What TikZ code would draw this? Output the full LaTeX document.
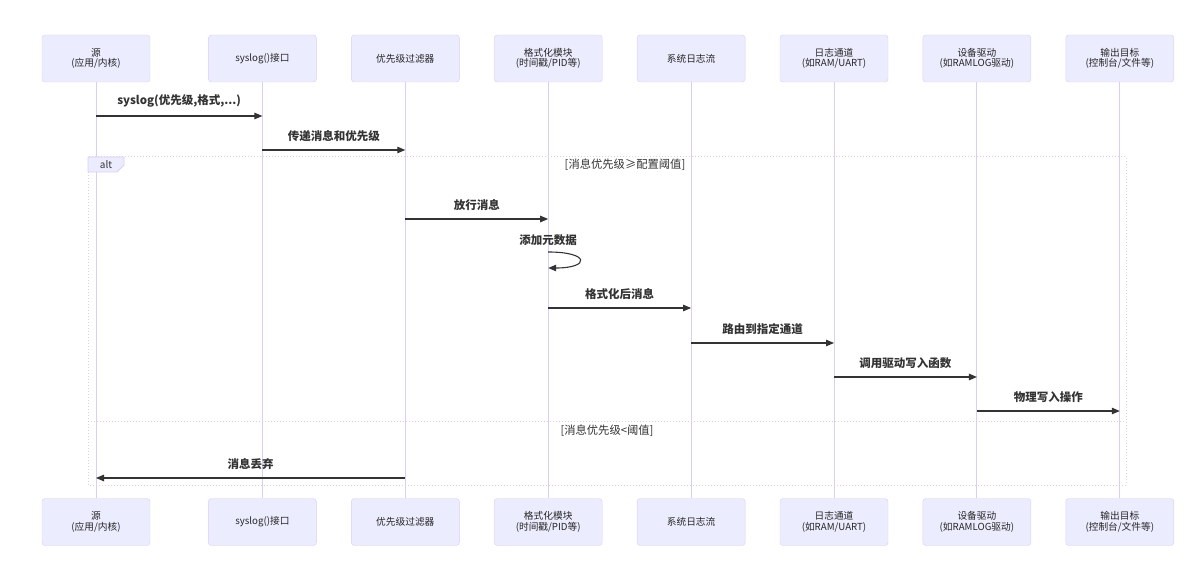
\documentclass[tikz,border=0pt]{standalone}
\usepackage{fontspec}
\setmainfont{Noto Sans CJK SC}
\usetikzlibrary{arrows.meta, positioning}
\definecolor{actorFill}{HTML}{ECECFF}
\definecolor{actorLine}{RGB}{218,206,243}
\definecolor{msgC}{HTML}{333333}

\begin{document}
\begin{tikzpicture}[
    x=1pt, y=-1pt,
    node distance=34.5pt,
    actor/.style={rectangle, rounded corners=3pt, draw=actorLine, fill=actorFill,
                  minimum width=108pt, minimum height=47pt, align=center,
                  inner sep=2pt, text=black!85, font=\fontsize{9.7}{10.5}\selectfont},
    lifeline/.style={draw=actorLine, line width=1pt},
    msg/.style={-{Triangle[length=8pt, width=6.5pt]}, msgC, line width=1.1pt},
    lbl/.style={midway, above=4.5pt, text=msgC, font=\fontsize{11.5}{13}\selectfont\bfseries},
    frame/.style={draw=actorLine, line width=1pt, dotted},
    cond/.style={text=msgC, font=\fontsize{11.3}{13}\selectfont}
  ]
    \useasboundingbox (0,0) rectangle (1197,572);

    % Participants (top)
    \node[actor] (src) at (96,58.5) {源\\(应用/内核)};
    \node[actor, right=58pt of src] (api) {syslog()接口};
    \node[actor, right=of api] (filter) {优先级过滤器};
    \node[actor, right=of filter] (fmt) {格式化模块\\(时间戳/PID等)};
    \node[actor, right=of fmt] (stream) {系统日志流};
    \node[actor, right=of stream] (chan) {日志通道\\(如RAM/UART)};
    \node[actor, right=of chan] (drv) {设备驱动\\(如RAMLOG驱动)};
    \node[actor, right=of drv] (out) {输出目标\\(控制台/文件等)};

    % Participants (bottom)
    \coordinate (botrow) at (0,522);
    \node[actor] (srcB) at (src |- botrow) {源\\(应用/内核)};
    \node[actor] (apiB) at (api |- botrow) {syslog()接口};
    \node[actor] (filterB) at (filter |- botrow) {优先级过滤器};
    \node[actor] (fmtB) at (fmt |- botrow) {格式化模块\\(时间戳/PID等)};
    \node[actor] (streamB) at (stream |- botrow) {系统日志流};
    \node[actor] (chanB) at (chan |- botrow) {日志通道\\(如RAM/UART)};
    \node[actor] (drvB) at (drv |- botrow) {设备驱动\\(如RAMLOG驱动)};
    \node[actor] (outB) at (out |- botrow) {输出目标\\(控制台/文件等)};

    % Lifelines
    \draw[lifeline] (src) -- (srcB);
    \draw[lifeline] (api) -- (apiB);
    \draw[lifeline] (filter) -- (filterB);
    \draw[lifeline] (fmt) -- (fmtB);
    \draw[lifeline] (stream) -- (streamB);
    \draw[lifeline] (chan) -- (chanB);
    \draw[lifeline] (drv) -- (drvB);
    \draw[lifeline] (out) -- (outB);

    % alt frame
    \draw[frame] (88,157) rectangle (1126,485);
    \draw[frame] (88,421) -- (1126,421);
    \draw[draw=actorLine, fill=actorFill, line width=0.8pt]
      (88,157) -- (124,157) -- (124,165) -- (117,172) -- (88,172) -- cycle;
    \node[text=msgC, font=\fontsize{10}{11}\selectfont] (alt) at (106,164.5) {alt};
    \node[cond] (cond1) at (625,165) {[消息优先级≥配置阈值]};
    \node[cond] (cond2) at (607,431) {[消息优先级<阈值]};

    % Message rows
    \coordinate (r1) at (0,116);
    \coordinate (r2) at (0,150);
    \coordinate (r3) at (0,219);
    \coordinate (r4a) at (0,252);
    \coordinate (r4b) at (0,268);
    \coordinate (r5) at (0,308);
    \coordinate (r6) at (0,343);
    \coordinate (r7) at (0,377);
    \coordinate (r8) at (0,411);
    \coordinate (r9) at (0,478);

    % Messages
    \draw[msg] (src |- r1) -- (api |- r1) node[lbl] {syslog(优先级,格式,...)};
    \draw[msg] (api |- r2) -- (filter |- r2) node[lbl] {传递消息和优先级};
    \draw[msg] (filter |- r3) -- (fmt |- r3) node[lbl] {放行消息};
    \draw[msg] (fmt |- r4a) to[out=0, in=0, out distance=42pt, in distance=42pt] (fmt |- r4b);
    \node[text=msgC, font=\fontsize{11.5}{13}\selectfont\bfseries] (meta) at ([yshift=12pt]fmt |- r4a) {添加元数据};
    \draw[msg] (fmt |- r5) -- (stream |- r5) node[lbl] {格式化后消息};
    \draw[msg] (stream |- r6) -- (chan |- r6) node[lbl] {路由到指定通道};
    \draw[msg] (chan |- r7) -- (drv |- r7) node[lbl] {调用驱动写入函数};
    \draw[msg] (drv |- r8) -- (out |- r8) node[lbl] {物理写入操作};
    \draw[msg] (filter |- r9) -- (src |- r9) node[lbl] {消息丢弃};
\end{tikzpicture}
\end{document}
